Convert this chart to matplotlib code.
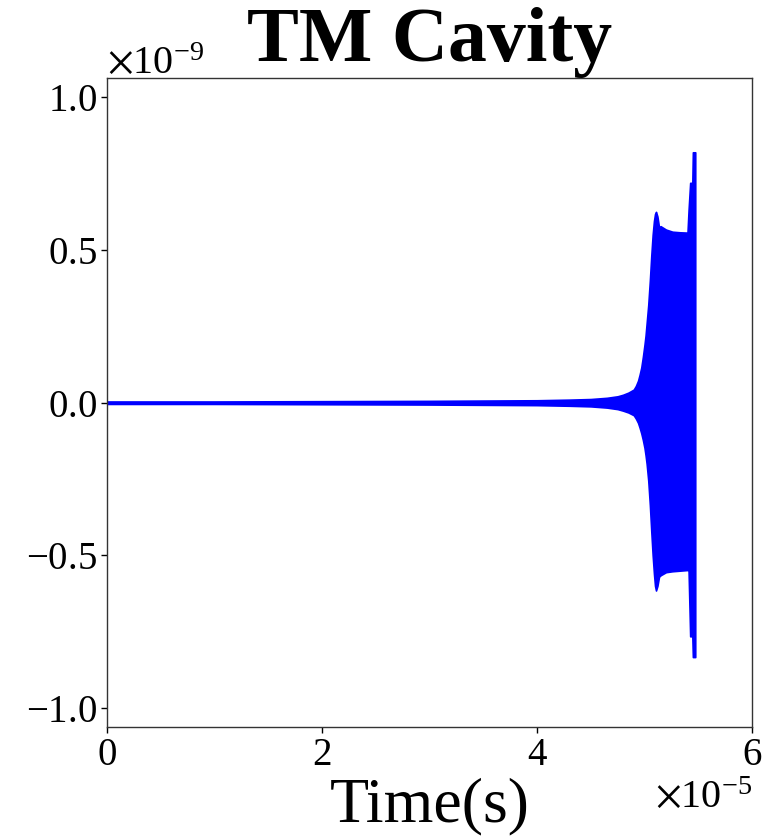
import numpy as np
import matplotlib
matplotlib.use("Agg")
import matplotlib.pyplot as plt

plt.rcParams['font.family'] = ['Liberation Serif', 'DejaVu Serif']
plt.rcParams['mathtext.fontset'] = 'stix'
plt.rcParams['axes.formatter.use_mathtext'] = True

# Envelope of the oscillating cavity field
# time in units of 1e-5 s, amplitude in units of 1e-9
time_e5 = [0.0, 1.0, 2.0, 3.0, 3.5, 4.0, 4.3, 4.5, 4.65, 4.75, 4.8, 4.85, 4.9,
           4.92, 4.94, 4.955, 4.97, 4.985, 5.0, 5.01, 5.02, 5.035, 5.05, 5.063,
           5.076, 5.088, 5.098, 5.107, 5.12, 5.135, 5.15, 5.2, 5.26, 5.33, 5.40,
           5.41, 5.425, 5.445, 5.45, 5.472]
upper_e9 = [0.004, 0.004, 0.005, 0.006, 0.007, 0.008, 0.010, 0.012, 0.016, 0.021,
            0.026, 0.033, 0.043, 0.055, 0.072, 0.092, 0.115, 0.150, 0.190, 0.220,
            0.260, 0.320, 0.400, 0.480, 0.550, 0.595, 0.618, 0.625, 0.610, 0.575,
            0.578, 0.567, 0.560, 0.558, 0.557, 0.630, 0.720, 0.720, 0.820, 0.820]
lower_e9 = [-0.004, -0.004, -0.005, -0.006, -0.007, -0.008, -0.010, -0.012, -0.016,
            -0.021, -0.026, -0.032, -0.041, -0.052, -0.066, -0.082, -0.100, -0.122,
            -0.148, -0.172, -0.200, -0.255, -0.335, -0.420, -0.500, -0.560, -0.600,
            -0.615, -0.600, -0.570, -0.565, -0.555, -0.552, -0.550, -0.548, -0.550,
            -0.765, -0.765, -0.833, -0.833]

t = np.array(time_e5) * 1e-5
up = np.array(upper_e9) * 1e-9
lo = np.array(lower_e9) * 1e-9

fig = plt.figure(figsize=(7.75, 8.39), dpi=100)
ax = fig.add_axes([107/775, 1 - 727/839, (752-107)/775, (727-77.5)/839])

ax.fill_between(t, lo, up, color='#0000ff', edgecolor='#0000ff', linewidth=1.2)

ax.set_xlim(0, 6e-5)
ax.set_ylim(-1.062e-9, 1.065e-9)
ax.set_xticks(np.array([0, 2, 4, 6]) * 1e-5)
ax.set_yticks(np.array([-1.0, -0.5, 0.0, 0.5, 1.0]) * 1e-9)

ax.tick_params(axis='both', labelsize=28, direction='out', length=4, width=1, colors='black')
ax.xaxis.get_offset_text().set_fontsize(29)
ax.yaxis.get_offset_text().set_fontsize(29)
for s in ax.spines.values():
    s.set_color('#333333')
    s.set_linewidth(1.0)

ax.set_title('TM Cavity', fontsize=56, fontweight='bold', pad=10)
ax.set_xlabel('Time(s)', fontsize=46, labelpad=2)

fig.savefig('out.png', dpi=100)
